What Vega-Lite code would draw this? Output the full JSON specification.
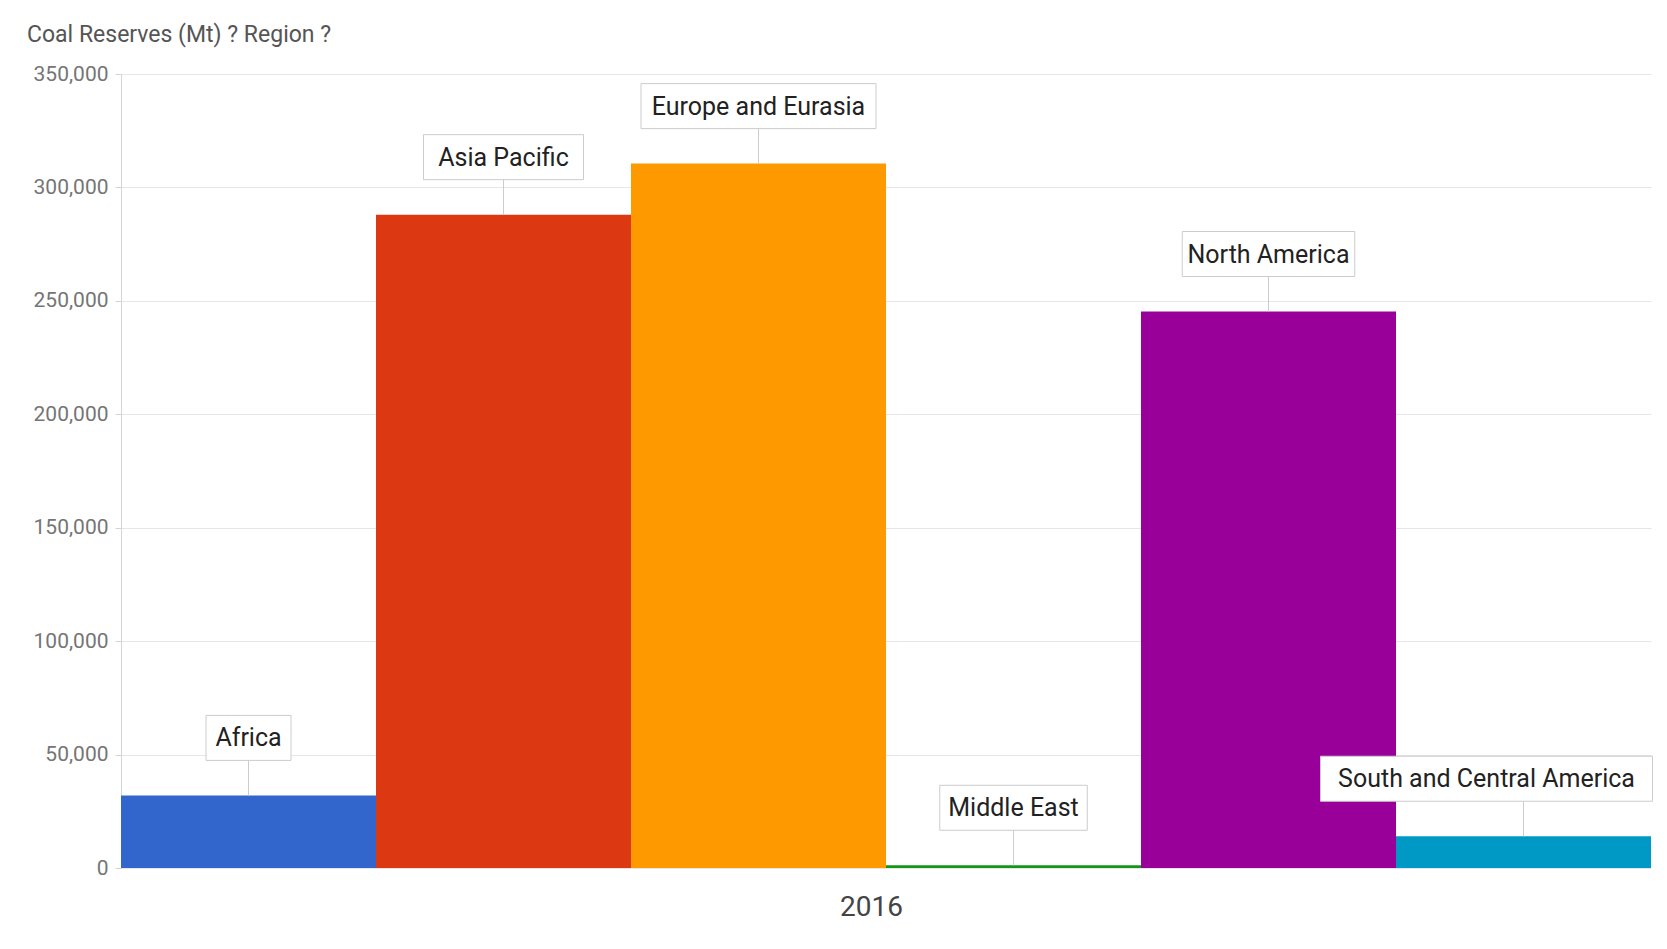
{
  "$schema": "https://vega.github.io/schema/vega-lite/v6.json",
  "autosize": "none",
  "width": 1530,
  "height": 794,
  "padding": {"left": 121, "top": 74, "right": 16, "bottom": 81},
  "background": "white",
  "config": {
    "font": "Roboto",
    "view": {"stroke": null}
  },
  "title": {
    "text": "Coal Reserves (Mt)  ?  Region  ?",
    "anchor": "start",
    "frame": "group",
    "dx": -94,
    "offset": 16,
    "fontSize": 23,
    "fontWeight": "normal",
    "color": "#555555",
    "font": "Roboto"
  },
  "data": {
    "values": [
      {"Region": "Africa", "Reserves": 32000},
      {"Region": "Asia Pacific", "Reserves": 288000},
      {"Region": "Europe and Eurasia", "Reserves": 310500},
      {"Region": "Middle East", "Reserves": 1200},
      {"Region": "North America", "Reserves": 245300},
      {"Region": "South and Central America", "Reserves": 14000}
    ]
  },
  "encoding": {
    "x": {
      "field": "Region",
      "type": "nominal",
      "sort": null,
      "scale": {"paddingInner": 0, "paddingOuter": 0},
      "axis": {
        "labels": false,
        "ticks": false,
        "domain": false,
        "title": "2016",
        "titleX": 750,
        "titleFontSize": 28,
        "titleFontWeight": "normal",
        "titleColor": "#444444",
        "titlePadding": 25,
        "titleFont": "Roboto"
      }
    },
    "y": {
      "field": "Reserves",
      "type": "quantitative",
      "scale": {"domain": [0, 350000], "nice": false},
      "axis": {
        "values": [0, 50000, 100000, 150000, 200000, 250000, 300000, 350000],
        "format": ",d",
        "title": null,
        "labelFontSize": 21,
        "labelColor": "#757575",
        "labelFont": "Roboto",
        "labelPadding": 7,
        "tickSize": 6,
        "tickColor": "#d4d4d4",
        "domainColor": "#d4d4d4",
        "gridColor": "#e6e6e6"
      }
    }
  },
  "layer": [
    {
      "mark": {"type": "bar"},
      "encoding": {
        "color": {
          "field": "Region",
          "type": "nominal",
          "sort": null,
          "scale": {"range": ["#3366cc", "#dc3912", "#ff9900", "#109618", "#990099", "#0099c6"]},
          "legend": null
        }
      }
    },
    {
      "mark": {"type": "rule", "color": "#cccccc", "strokeWidth": 1, "y2Offset": -35},
      "encoding": {
        "y2": {"field": "Reserves"}
      }
    },
    {
      "transform": [
        {"filter": "datum.Region != 'South and Central America'"},
        {"calculate": "length(datum.Region) * 12.5 + 10", "as": "boxw"}
      ],
      "layer": [
        {
          "mark": {"type": "bar", "fill": "white", "stroke": "#cccccc", "strokeWidth": 1, "yOffset": -80, "y2Offset": -35},
          "encoding": {
            "y2": {"field": "Reserves"},
            "size": {"field": "boxw", "type": "quantitative", "scale": null}
          }
        },
        {
          "mark": {"type": "text", "fontSize": 25, "color": "#222222", "baseline": "middle", "align": "center", "yOffset": -57, "font": "Roboto"},
          "encoding": {"text": {"field": "Region"}}
        }
      ]
    },
    {
      "transform": [
        {"filter": "datum.Region == 'South and Central America'"},
        {"calculate": "length(datum.Region) * 12.8 + 12", "as": "boxw"}
      ],
      "layer": [
        {
          "mark": {"type": "bar", "fill": "white", "stroke": "#cccccc", "strokeWidth": 1, "xOffset": -37, "yOffset": -80, "y2Offset": -35},
          "encoding": {
            "y2": {"field": "Reserves"},
            "size": {"field": "boxw", "type": "quantitative", "scale": null}
          }
        },
        {
          "mark": {"type": "text", "fontSize": 25, "color": "#222222", "baseline": "middle", "align": "center", "xOffset": -37, "yOffset": -57, "font": "Roboto"},
          "encoding": {"text": {"field": "Region"}}
        }
      ]
    }
  ]
}
